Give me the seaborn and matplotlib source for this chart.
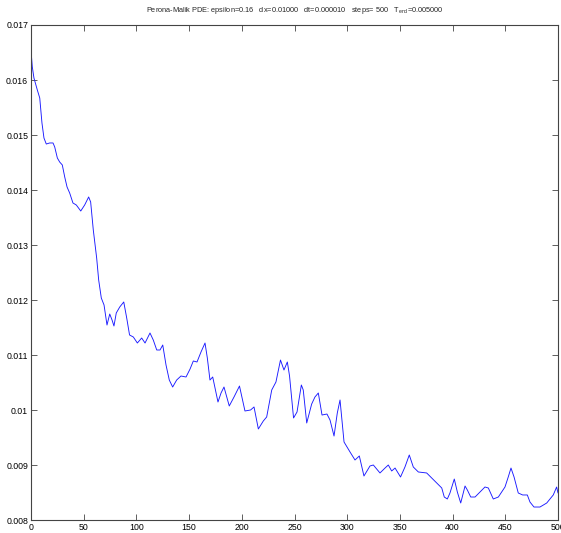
import matplotlib
matplotlib.use("Agg")
import matplotlib.pyplot as plt
import seaborn as sns
import pandas as pd

# Data
step = [0.0, 1.2, 2.8, 6.0, 8.3, 10.4, 12.3, 14.5, 17.7, 20.9, 22.5, 25.0, 27.2, 29.7,
        32.0, 34.2, 36.7, 39.8, 43.0, 47.2, 50.9, 54.7, 56.6, 59.1, 62.3, 64.2, 66.7,
        69.3, 72.1, 74.7, 76.9, 78.7, 80.9, 84.2, 88.0, 90.8, 93.5, 97.1, 100.9, 105.0,
        108.2, 112.9, 116.0, 119.3, 122.4, 125.0, 128.1, 131.2, 134.4, 138.2, 142.3,
        147.1, 150.9, 154.0, 157.5, 161.3, 165.1, 167.3, 169.8, 172.4, 174.6, 177.4,
        180.3, 183.1, 186.0, 188.1, 192.6, 197.8, 203.0, 208.3, 211.6, 215.7, 220.4,
        223.6, 228.4, 232.4, 236.7, 240.0, 243.2, 245.3, 249.1, 252.4, 256.5, 258.3,
        261.6, 266.3, 269.4, 272.6, 276.1, 280.8, 283.7, 287.5, 290.6, 293.2, 297.0,
        302.7, 307.4, 311.5, 315.9, 321.6, 324.8, 331.1, 335.9, 339.0, 342.2, 345.4,
        350.6, 354.8, 358.9, 362.7, 367.5, 375.4, 380.2, 384.9, 389.7, 392.1, 395.0,
        397.5, 401.6, 404.5, 407.7, 411.8, 414.0, 417.2, 421.3, 426.0, 430.7, 433.9,
        438.6, 443.4, 449.7, 452.8, 455.4, 458.3, 462.3, 466.5, 470.9, 473.4, 477.2,
        482.9, 489.3, 495.5, 498.7, 500.0]
value = [0.016545, 0.016242, 0.016036, 0.015818, 0.015673, 0.015218, 0.014945, 0.014836,
         0.014855, 0.014855, 0.014782, 0.014582, 0.014509, 0.014455, 0.014236, 0.014055,
         0.013945, 0.013764, 0.013727, 0.013618, 0.013727, 0.013873, 0.013782, 0.013273,
         0.012764, 0.012364, 0.012036, 0.011909, 0.011545, 0.011745, 0.011636, 0.011527,
         0.011764, 0.011873, 0.011964, 0.011673, 0.011364, 0.011327, 0.011218, 0.011309,
         0.011218, 0.011400, 0.011273, 0.011091, 0.011091, 0.011182, 0.010818, 0.010545,
         0.010418, 0.010545, 0.010618, 0.010600, 0.010745, 0.010891, 0.010873, 0.011055,
         0.011218, 0.010945, 0.010545, 0.010600, 0.010400, 0.010145, 0.010309, 0.010418,
         0.010218, 0.010073, 0.010236, 0.010436, 0.009982, 0.010000, 0.010055, 0.009655,
         0.009800, 0.009873, 0.010364, 0.010509, 0.010909, 0.010727, 0.010873, 0.010618,
         0.009855, 0.009964, 0.010455, 0.010364, 0.009764, 0.010109, 0.010236, 0.010309,
         0.009909, 0.009927, 0.009818, 0.009527, 0.009945, 0.010182, 0.009418, 0.009236,
         0.009091, 0.009164, 0.008800, 0.008982, 0.009000, 0.008855, 0.008945, 0.009000,
         0.008891, 0.008945, 0.008782, 0.008964, 0.009182, 0.008964, 0.008873, 0.008855,
         0.008764, 0.008673, 0.008582, 0.008418, 0.008382, 0.008491, 0.008745, 0.008509,
         0.008309, 0.008618, 0.008545, 0.008418, 0.008418, 0.008509, 0.008600, 0.008582,
         0.008382, 0.008418, 0.008600, 0.008782, 0.008945, 0.008782, 0.008491, 0.008455,
         0.008455, 0.008327, 0.008236, 0.008236, 0.008309, 0.008455, 0.008600, 0.008491]

x_ticks = [0, 50, 100, 150, 200, 250, 300, 350, 400, 450, 500]
y_ticks = [0.008, 0.009, 0.010, 0.011, 0.012, 0.013, 0.014, 0.015, 0.016, 0.017]
y_tick_labels = ["0.008", "0.009", "0.01", "0.011", "0.012", "0.013", "0.014",
                 "0.015", "0.016", "0.017"]
title = ("Perona-Malik PDE: epsilon=0.16   dx=0.01000   dt=0.000010   steps= 500   "
         r"T$_{\mathrm{end}}$=0.005000")

sns.set_style("white")
plt.rcParams["font.family"] = ["Liberation Sans", "DejaVu Sans"]
plt.rcParams["mathtext.fontset"] = "custom"
plt.rcParams["mathtext.rm"] = "Liberation Sans"

df = pd.DataFrame({"step": step, "value": value})

fig = plt.figure(figsize=(5.61, 5.33), dpi=100)
ax = fig.add_axes([31 / 561, 13 / 533, 527 / 561, 495 / 533])
sns.lineplot(data=df, x="step", y="value", ax=ax, color="#1a1aff", linewidth=0.65,
             sort=False)

ax.set_xlim(0, 500)
ax.set_ylim(0.008, 0.017)
ax.set_xticks(x_ticks)
ax.set_yticks(y_ticks)
ax.set_yticklabels(y_tick_labels)
ax.set_xlabel("")
ax.set_ylabel("")
ax.tick_params(direction="in", length=4, width=0.6, color="#444444",
               labelsize=6.3, pad=2, top=True, right=True,
               bottom=True, left=True, labelcolor="black")
for s in ax.spines.values():
    s.set_color("#444444")
    s.set_linewidth(0.8)
    s.set_visible(True)
ax.set_title(title, fontsize=5.3, pad=9)

fig.savefig("out.png", dpi=100, facecolor="white")
